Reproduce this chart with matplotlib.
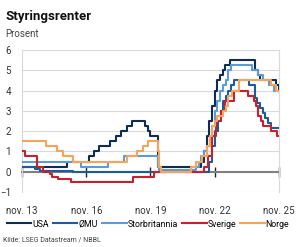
import pandas as pd
import matplotlib
matplotlib.use("Agg")
import matplotlib.pyplot as plt

plt.rcParams['font.family'] = ['Roboto', 'DejaVu Sans']

# Styringsrenter, endringsdatoer og nivå (prosent)
usa_dato = ["2013-11-01", "2015-12-16", "2016-12-14", "2017-03-15", "2017-06-14", "2017-12-13",
            "2018-03-21", "2018-06-13", "2018-09-26", "2018-12-19", "2019-07-31", "2019-09-18",
            "2019-10-30", "2020-03-03", "2020-03-15", "2022-03-16", "2022-05-04", "2022-06-15",
            "2022-07-27", "2022-09-21", "2022-11-02", "2022-12-14", "2023-02-01", "2023-03-22",
            "2023-05-03", "2023-07-26", "2024-09-18", "2024-11-07", "2024-12-18", "2025-09-17",
            "2025-10-29"]
usa_rente = [0.25, 0.5, 0.75, 1.0, 1.25, 1.5, 1.75, 2.0, 2.25, 2.5, 2.25, 2.0, 1.75, 1.25, 0.25,
             0.5, 1.0, 1.75, 2.5, 3.25, 4.0, 4.5, 4.75, 5.0, 5.25, 5.5, 5.0, 4.75, 4.5, 4.25, 4.0]

emu_dato = ["2013-11-01", "2014-06-11", "2014-09-10", "2016-03-16", "2022-07-27", "2022-09-14",
            "2022-11-02", "2022-12-21", "2023-02-08", "2023-03-22", "2023-05-10", "2023-06-21",
            "2023-08-02", "2023-09-20", "2024-06-12", "2024-09-18", "2024-10-23", "2024-12-18",
            "2025-02-05", "2025-03-12", "2025-04-23", "2025-06-11"]
emu_rente = [0.25, 0.15, 0.05, 0.0, 0.5, 1.25, 2.0, 2.5, 3.0, 3.5, 3.75, 4.0, 4.25, 4.5, 4.25,
             3.65, 3.4, 3.15, 2.9, 2.65, 2.4, 2.15]

uk_dato = ["2013-11-01", "2016-08-04", "2017-11-02", "2018-08-02", "2020-03-11", "2020-03-19",
           "2021-12-16", "2022-02-03", "2022-03-17", "2022-05-05", "2022-06-16", "2022-08-04",
           "2022-09-22", "2022-11-03", "2022-12-15", "2023-02-02", "2023-03-23", "2023-05-11",
           "2023-06-22", "2023-08-03", "2024-08-01", "2024-11-07", "2025-02-06", "2025-05-08",
           "2025-08-07"]
uk_rente = [0.5, 0.25, 0.5, 0.75, 0.25, 0.1, 0.25, 0.5, 0.75, 1.0, 1.25, 1.75, 2.25, 3.0, 3.5,
            4.0, 4.25, 4.5, 5.0, 5.25, 5.0, 4.75, 4.5, 4.25, 4.0]

se_dato = ["2013-11-01", "2013-12-18", "2014-07-09", "2014-10-29", "2015-02-18", "2015-03-25",
           "2015-07-08", "2016-02-17", "2019-01-09", "2020-01-08", "2022-05-04", "2022-07-06",
           "2022-09-21", "2022-11-30", "2023-02-15", "2023-04-26", "2023-09-27", "2024-05-15",
           "2024-08-28", "2024-10-02", "2024-11-13", "2024-12-27", "2025-01-29", "2025-06-25",
           "2025-09-24"]
se_rente = [1.0, 0.75, 0.25, 0.0, -0.1, -0.25, -0.35, -0.5, -0.25, 0.0, 0.25, 0.75, 1.75, 2.5,
            3.0, 3.5, 4.0, 3.75, 3.5, 3.25, 2.75, 2.5, 2.25, 2.0, 1.75]

no_dato = ["2013-11-01", "2014-12-11", "2015-06-18", "2015-09-24", "2016-03-17", "2018-09-20",
           "2019-03-21", "2019-06-20", "2019-09-19", "2020-03-13", "2020-03-20", "2020-05-07",
           "2021-09-23", "2021-12-16", "2022-03-24", "2022-06-23", "2022-08-18", "2022-09-22",
           "2022-11-03", "2022-12-15", "2023-03-23", "2023-05-04", "2023-06-22", "2023-08-17",
           "2023-12-14", "2025-06-19", "2025-09-18"]
no_rente = [1.5, 1.25, 1.0, 0.75, 0.5, 0.75, 1.0, 1.25, 1.5, 1.0, 0.25, 0.0, 0.25, 0.5, 0.75,
            1.25, 1.75, 2.25, 2.5, 2.75, 3.0, 3.25, 3.75, 4.0, 4.5, 4.25, 4.0]

serier = [("USA", usa_dato, usa_rente, "#0f2d52"),
          ("ØMU", emu_dato, emu_rente, "#1a5c9c"),
          ("Storbritannia", uk_dato, uk_rente, "#5d9bd6"),
          ("Sverige", se_dato, se_rente, "#c8202f"),
          ("Norge", no_dato, no_rente, "#f5a45b")]

start = pd.Timestamp("2013-11-01")
slutt = pd.Timestamp("2025-11-01")
tick_dato = pd.to_datetime(["2013-11-01", "2016-11-01", "2019-11-01", "2022-11-01", "2025-11-01"])
tick_tekst = ["nov. 13", "nov. 16", "nov. 19", "nov. 22", "nov. 25"]

fig = plt.figure(figsize=(2.96, 2.47), dpi=100)
ax = fig.add_axes([0.0743, 0.2227, 0.8683, 0.5749])

for navn, dato, rente, farge in serier:
    d = list(pd.to_datetime(dato)) + [slutt]
    r = list(rente) + [rente[-1]]
    ax.step(d, r, where="post", color=farge, lw=1.5, label=navn, zorder=3)

ax.set_xlim(start, slutt)
ax.set_ylim(-1, 6)
ax.set_yticks(range(-1, 7))
ax.yaxis.grid(True, color="#d9d9d9", lw=0.8)
ax.set_axisbelow(True)

ax.spines["top"].set_visible(False)
for s in ["left", "right"]:
    ax.spines[s].set_color("#d9d9d9")
    ax.spines[s].set_linewidth(0.8)
ax.spines["bottom"].set_position(("data", 0))
ax.spines["bottom"].set_color("#808080")
ax.spines["bottom"].set_linewidth(1.5)
ax.spines["bottom"].set_zorder(2)

ax.set_xticks(tick_dato)
ax.tick_params(axis="x", direction="inout", length=7, width=1, color="#222222", labelbottom=False)
ax.tick_params(axis="y", length=0, labelsize=7, labelcolor="#333333", pad=8)

sec = ax.secondary_xaxis(0)
sec.set_xticks(tick_dato)
sec.set_xticklabels(tick_tekst)
sec.tick_params(length=0, labelsize=7, labelcolor="#333333", pad=10)
sec.spines["bottom"].set_visible(False)

fig.text(0.017, 0.935, "Styringsrenter", fontsize=9.5, fontweight="bold", va="center", color="#111111")
fig.text(0.017, 0.862, "Prosent", fontsize=7, va="center", color="#444444")
fig.text(0.01, 0.028, "Kilde: LSEG Datastream / NBBL", fontsize=5, va="center", color="#444444")

fig.legend(loc="center", bbox_to_anchor=(0.5, 0.093), ncol=5, frameon=False, fontsize=6.3,
           handlelength=2.8, handletextpad=0.1, columnspacing=0.5, borderaxespad=0)

fig.savefig("out.png", dpi=100)
